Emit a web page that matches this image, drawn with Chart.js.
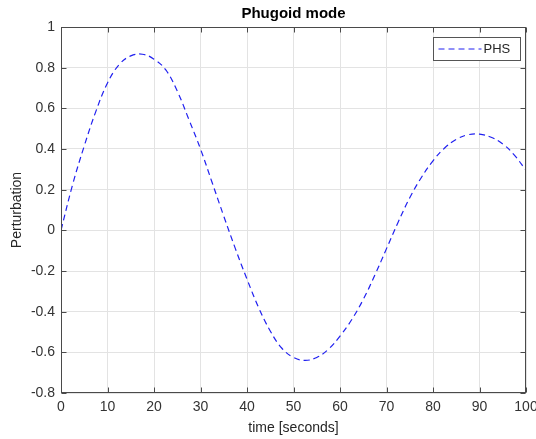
<!DOCTYPE html>
<html lang="en">
<head>
<meta charset="UTF-8">
<title>Phugoid mode</title>
<script src="https://cdn.jsdelivr.net/npm/chart.js"></script>
<style>
    body { margin: 0; background: #fff; }
    .chart-wrapper { position: relative; width: 536px; height: 439px; }
</style>
</head>
<body>
<div class="chart-wrapper">
    <canvas id="phugoidChart"></canvas>
</div>

<script>
    // values
    const timeSeconds = [0, 2.5, 5, 7.5, 10, 12.5, 15, 17.5, 20, 22.5, 25, 27.5, 30, 32.5, 35, 37.5, 40,
        42.5, 45, 47.5, 50, 52.5, 55, 57.5, 60, 62.5, 65, 67.5, 70, 72.5, 75, 77.5, 80, 82.5, 85,
        87.5, 90, 92.5, 95, 97.5, 100];
    const phsPerturbation = [0, 0.225, 0.415, 0.585, 0.725, 0.815, 0.858, 0.866, 0.842, 0.79, 0.685,
        0.545, 0.4, 0.235, 0.07, -0.09, -0.24, -0.38, -0.495, -0.58, -0.625, -0.64, -0.625, -0.585,
        -0.52, -0.44, -0.34, -0.22, -0.09, 0.04, 0.16, 0.26, 0.342, 0.405, 0.447, 0.47, 0.473,
        0.458, 0.425, 0.37, 0.295];
    const xTickValues = [0, 10, 20, 30, 40, 50, 60, 70, 80, 90, 100];
    const yTickValues = [-0.8, -0.6, -0.4, -0.2, 0, 0.2, 0.4, 0.6, 0.8, 1];

    const fontFamily = "'Liberation Sans', Arial, sans-serif";

    // MATLAB style box, inward ticks and legend
    const matlabFrame = {
        id: 'matlabFrame',
        afterDraw(chart) {
            const { ctx, chartArea: a, scales: { x, y } } = chart;
            const l = Math.round(a.left) + 0.5, r = Math.round(a.right) - 0.5;
            const t = Math.round(a.top) + 0.5, b = Math.round(a.bottom) - 0.5;
            ctx.save();
            ctx.strokeStyle = '#4a4a4a';
            ctx.lineWidth = 1;
            ctx.strokeRect(l, t, r - l, b - t);
            ctx.beginPath();
            xTickValues.forEach(v => {
                const px = Math.round(x.getPixelForValue(v)) + 0.5;
                ctx.moveTo(px, b); ctx.lineTo(px, b - 5);
                ctx.moveTo(px, t); ctx.lineTo(px, t + 5);
            });
            yTickValues.forEach(v => {
                const py = Math.round(y.getPixelForValue(v)) + 0.5;
                ctx.moveTo(l, py); ctx.lineTo(l + 5, py);
                ctx.moveTo(r, py); ctx.lineTo(r - 5, py);
            });
            ctx.stroke();

            // legend box
            const ds = chart.data.datasets[0];
            const bx = Math.round(a.right) - 92.5, by = Math.round(a.top) + 10.5;
            ctx.fillStyle = '#fff';
            ctx.fillRect(bx, by, 87, 23);
            ctx.strokeStyle = '#555';
            ctx.strokeRect(bx, by, 87, 23);
            ctx.strokeStyle = ds.borderColor;
            ctx.setLineDash(ds.borderDash);
            ctx.beginPath();
            ctx.moveTo(bx + 5, by + 11.5);
            ctx.lineTo(bx + 48, by + 11.5);
            ctx.stroke();
            ctx.setLineDash([]);
            ctx.fillStyle = '#262626';
            ctx.font = '13px ' + fontFamily;
            ctx.textBaseline = 'middle';
            ctx.fillText(ds.label, bx + 50, by + 12);
            ctx.restore();
        }
    };

    new Chart(document.getElementById('phugoidChart'), {
        type: 'line',
        data: {
            datasets: [{
                label: 'PHS',
                data: timeSeconds.map((t, i) => ({ x: t, y: phsPerturbation[i] })),
                borderColor: '#2020f0',
                borderWidth: 1.2,
                borderDash: [6, 4],
                pointRadius: 0,
                tension: 0.4,
                fill: false
            }]
        },
        options: {
            responsive: true,
            maintainAspectRatio: false,
            animation: false,
            layout: { padding: { left: 0, right: 10, top: 0, bottom: 0 } },
            plugins: {
                legend: { display: false },
                tooltip: { enabled: false },
                title: {
                    display: true,
                    text: 'Phugoid mode',
                    fullSize: false,
                    color: '#000',
                    font: { family: fontFamily, size: 15, weight: 'bold', lineHeight: 1.2 },
                    padding: { top: 5, bottom: 4 }
                }
            },
            scales: {
                x: {
                    type: 'linear',
                    min: 0,
                    max: 100,
                    afterBuildTicks: s => { s.ticks = xTickValues.map(v => ({ value: v })); },
                    afterFit: s => { s.height = 46; s.paddingLeft = 0; s.paddingRight = 0; },
                    grid: { color: '#e3e3e3', drawTicks: false },
                    border: { display: false },
                    ticks: {
                        color: '#333',
                        padding: 6,
                        maxRotation: 0,
                        font: { family: fontFamily, size: 14 }
                    },
                    title: {
                        display: true,
                        text: 'time [seconds]',
                        color: '#262626',
                        font: { family: fontFamily, size: 14 },
                        padding: { top: 0, bottom: 2 }
                    }
                },
                y: {
                    min: -0.8,
                    max: 1,
                    afterBuildTicks: s => { s.ticks = yTickValues.map(v => ({ value: v })); },
                    afterFit: s => { s.width = 61; s.paddingTop = 0; s.paddingBottom = 0; },
                    grid: { color: '#e3e3e3', drawTicks: false },
                    border: { display: false },
                    ticks: {
                        color: '#333',
                        padding: 6,
                        font: { family: fontFamily, size: 14 },
                        callback: v => String(Number(v.toFixed(1)))
                    },
                    title: {
                        display: true,
                        text: 'Perturbation',
                        color: '#262626',
                        font: { family: fontFamily, size: 14 },
                        padding: { top: 9, bottom: 0 }
                    }
                }
            }
        },
        plugins: [matlabFrame]
    });
</script>
</body>
</html>
